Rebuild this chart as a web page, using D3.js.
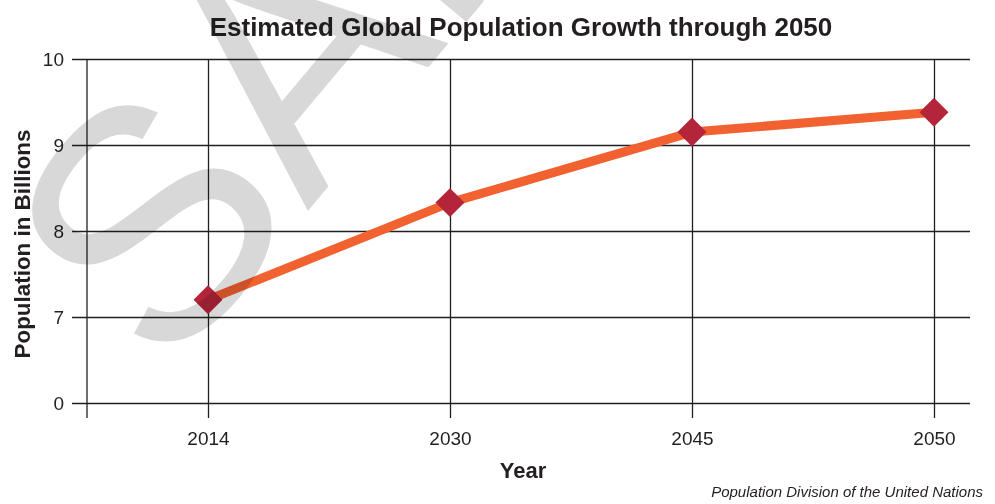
<!DOCTYPE html>
<html>
<head>
<meta charset="utf-8">
<script src="https://cdn.jsdelivr.net/npm/d3@7"></script>
<style>
  html, body { margin: 0; padding: 0; background: #fff; }
  svg { display: block; font-family: "Liberation Sans", Arial, Helvetica, sans-serif; }
</style>
</head>
<body>
<svg id="chart" width="995" height="504"></svg>
<script>
// Population estimates (billions)
const years = ["2014", "2030", "2045", "2050"];
const population = [7.2, 8.33, 9.15, 9.38];

// Y axis is broken: the lowest tick reads "0" but sits one step below 7
const yTickValues = [6, 7, 8, 9, 10];
const yTickLabels = ["0", "7", "8", "9", "10"];

const titleText = "Estimated Global Population Growth through 2050";
const xTitle = "Year";
const yTitle = "Population in Billions";
const sourceText = "Population Division of the United Nations";

const svg = d3.select("#chart");

const plot = { left: 87, right: 970, top: 59, bottom: 403 };
const ink = "#231f20";

const x = d3.scalePoint().domain(years).range([208, 934]);
const y = d3.scaleLinear().domain([6, 10]).range([plot.bottom, plot.top]);

const data = years.map((yr, i) => ({ year: yr, value: population[i] }));

// Title
svg.append("text")
  .attr("x", 521).attr("y", 36)
  .attr("text-anchor", "middle")
  .attr("font-weight", "bold")
  .attr("font-size", 26)
  .attr("fill", ink)
  .text(titleText);

// Horizontal grid lines (extend left of the axis as ticks)
const yAxis = d3.axisLeft(y)
  .tickValues(yTickValues)
  .tickFormat((d, i) => yTickLabels[i])
  .tickSize(-(plot.right - plot.left + 15))
  .tickPadding(8);

const gy = svg.append("g")
  .attr("transform", `translate(${plot.left - 15},0)`)
  .call(yAxis);
gy.select(".domain").remove();
gy.selectAll(".tick line")
  .attr("stroke", ink).attr("stroke-width", 1.3)
  .attr("x1", 0);
gy.selectAll(".tick text")
  .attr("fill", ink)
  .attr("font-size", 19)
  .attr("font-family", "Liberation Sans, Arial, sans-serif");

// Vertical grid lines at each year, extending below the base as ticks
const xAxis = d3.axisBottom(x)
  .tickSize(-(plot.bottom - plot.top + 15))
  .tickPadding(14);
const gx = svg.append("g")
  .attr("transform", `translate(0,${plot.bottom + 15})`)
  .call(xAxis);
gx.select(".domain").remove();
gx.selectAll(".tick line").attr("stroke", ink).attr("stroke-width", 1.3);
gx.selectAll(".tick text")
  .attr("fill", ink)
  .attr("font-size", 19)
  .attr("font-family", "Liberation Sans, Arial, sans-serif");

// Left axis line
svg.append("line")
  .attr("x1", plot.left).attr("x2", plot.left)
  .attr("y1", plot.top).attr("y2", plot.bottom + 15)
  .attr("stroke", ink).attr("stroke-width", 1.3);

// Axis titles
svg.append("text")
  .attr("x", 523).attr("y", 478)
  .attr("text-anchor", "middle")
  .attr("font-weight", "bold")
  .attr("font-size", 22)
  .attr("fill", ink)
  .text(xTitle);

svg.append("text")
  .attr("transform", `translate(30,${244}) rotate(-90)`)
  .attr("text-anchor", "middle")
  .attr("font-weight", "bold")
  .attr("font-size", 22.4)
  .attr("fill", ink)
  .text(yTitle);

// Series line
const line = d3.line().x(d => x(d.year)).y(d => y(d.value));
svg.append("path")
  .datum(data)
  .attr("d", line)
  .attr("fill", "none")
  .attr("stroke", "#f26130")
  .attr("stroke-width", 9)
  .attr("stroke-linejoin", "round");

// Diamond markers
const diamond = d3.symbol().type(d3.symbolSquare).size(420);
svg.selectAll(".marker")
  .data(data)
  .join("path")
  .attr("class", "marker")
  .attr("d", diamond)
  .attr("transform", d => `translate(${x(d.year)},${y(d.value)}) rotate(45)`)
  .attr("fill", "#b5253a");

// Source note
svg.append("text")
  .attr("x", 983).attr("y", 497)
  .attr("text-anchor", "end")
  .attr("font-style", "italic")
  .attr("font-size", 15)
  .attr("fill", ink)
  .text(sourceText);

// SAMPLE stamp across the chart
svg.append("text")
  .attr("transform", "translate(166,380) rotate(-50)")
  .attr("font-size", 330)
  .attr("fill", "#d8d8d8")
  .style("mix-blend-mode", "multiply")
  .text("SAMPLE");
</script>
</body>
</html>
